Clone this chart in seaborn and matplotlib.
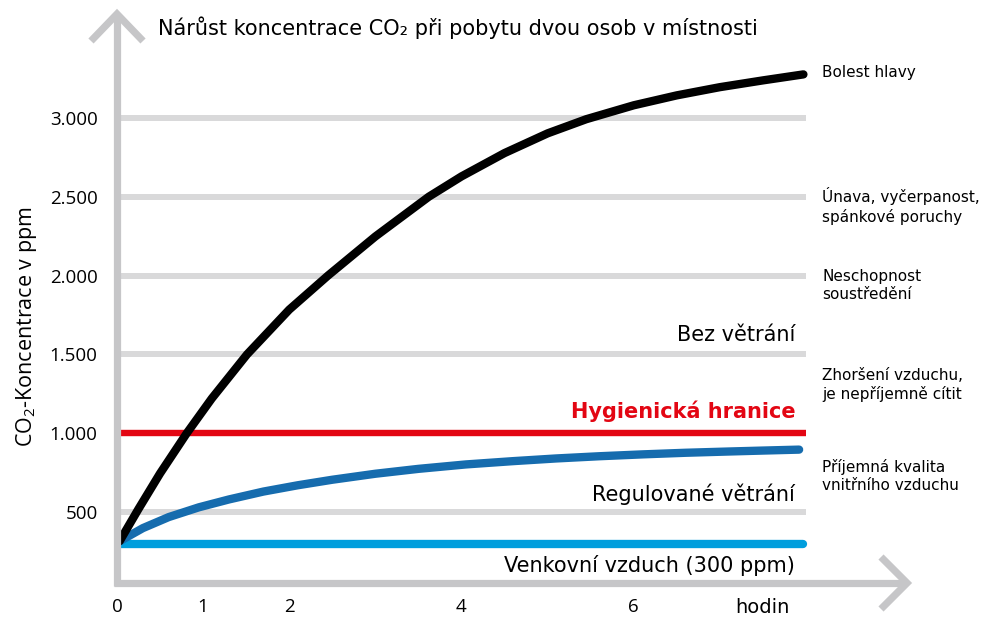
import numpy as np
import pandas as pd
import matplotlib
matplotlib.use("Agg")
import matplotlib.pyplot as plt
from matplotlib.lines import Line2D
import seaborn as sns

# ---------------- data ----------------
hours_no_vent = [0.03, 0.25, 0.5, 0.81, 1.1, 1.51, 2.0, 2.45, 3.0, 3.62, 4.0, 4.5, 5.0,
                 5.45, 6.0, 6.5, 7.0, 7.5, 7.97]
no_ventilation = [315, 520, 745, 1000, 1220, 1500, 1784, 2000, 2248, 2500, 2629, 2777, 2902,
                  2992, 3080, 3143, 3195, 3238, 3276]
hours_ctrl = [0.03, 0.3, 0.6, 0.95, 1.3, 1.7, 2.1, 2.5, 3.0, 3.5, 4.05, 4.6, 5.1, 5.6,
              6.11, 6.6, 7.1, 7.5, 7.92]
controlled_ventilation = [315, 398, 468, 530, 580, 630, 670, 705, 743, 774, 802, 823, 840, 854,
                          866, 876, 884, 890, 896]
hours_outdoor = [0.03, 7.97]
outdoor_ppm = [300, 300]
hygiene_limit = 1000
grid_levels = [500, 1500, 2000, 2500, 3000]
y_ticks = [500, 1000, 1500, 2000, 2500, 3000]
y_tick_labels = ["500", "1.000", "1.500", "2.000", "2.500", "3.000"]
x_ticks = [0, 1, 2, 4, 6, 7.5]
x_tick_labels = ["0", "1", "2", "4", "6", "hodin"]
effects = ["Bolest hlavy", "Únava, vyčerpanost,\nspánkové poruchy", "Neschopnost\nsoustředění",
           "Zhoršení vzduchu,\nje nepříjemně cítit", "Příjemná kvalita\nvnitřního vzduchu"]
effect_levels = [3285, 2441, 1940, 1306, 729]
series_labels = ["Bez větrání", "Hygienická hranice", "Regulované větrání", "Venkovní vzduch (300 ppm)"]
series_label_levels = [1620, 1140, 614, 158]
title = "Nárůst koncentrace CO₂ při pobytu dvou osob v místnosti"
ylabel = "CO$_2$-Koncentrace v ppm"

df_nv = pd.DataFrame({"hodin": hours_no_vent, "ppm": no_ventilation})
df_cv = pd.DataFrame({"hodin": hours_ctrl, "ppm": controlled_ventilation})
df_out = pd.DataFrame({"hodin": hours_outdoor, "ppm": outdoor_ppm})

# ---------------- style ----------------
sns.set_style("white")
plt.rcParams["font.family"] = ["DejaVu Sans"]
plt.rcParams["text.color"] = "black"
plt.rcParams["axes.labelcolor"] = "black"
plt.rcParams["xtick.color"] = "black"
plt.rcParams["ytick.color"] = "black"
plt.rcParams["mathtext.default"] = "regular"

W, H = 987, 618
fig = plt.figure(figsize=(W / 100, H / 100), dpi=100)
fig.patch.set_facecolor("white")
ax = fig.add_axes([117 / W, 35 / H, (806 - 117) / W, (583 - 71) / H])
ax.set_xlim(0, 8)
ax.set_ylim(50, 3297.5)
for s in ax.spines.values():
    s.set_visible(False)

GRID = "#d9d9da"
AXIS = "#c6c6c8"
RED = "#e30613"
DBLUE = "#166cae"
LBLUE = "#009edd"

ax.hlines(grid_levels, 0.04, 8, colors=GRID, lw=4.3, zorder=1)
ax.hlines([hygiene_limit], 0.04, 8, colors=RED, lw=4.6, zorder=2)

common = dict(solid_capstyle="round", solid_joinstyle="round", clip_on=False, legend=False)
sns.lineplot(data=df_out, x="hodin", y="ppm", color=LBLUE, lw=6.0, ax=ax, zorder=3, **common)
sns.lineplot(data=df_cv, x="hodin", y="ppm", color=DBLUE, lw=6.0, ax=ax, zorder=4, **common)
sns.lineplot(data=df_nv, x="hodin", y="ppm", color="black", lw=6.0, ax=ax, zorder=5, **common)

# ticks
ax.set_yticks(y_ticks)
ax.set_yticklabels(y_tick_labels, fontsize=13.5, family="Open Sans")
ax.set_xticks(x_ticks)
ax.set_xticklabels(x_tick_labels, fontsize=14)
for lab in ax.get_xticklabels()[:-1]:
    lab.set_family("Open Sans")
    lab.set_fontsize(13.5)
ax.tick_params(axis="y", length=0, pad=14)
ax.tick_params(axis="x", length=0, pad=11)
ax.set_xlabel("")
ax.set_ylabel(ylabel, fontsize=15.5, family="Open Sans", labelpad=8)

# labels inside
lab_x = 7.875
for txt, lvl in zip(series_labels, series_label_levels):
    bold = txt.startswith("Hygien")
    ax.text(lab_x, lvl, txt, ha="right", va="center", fontsize=15,
            fontweight="bold" if bold else "normal", color=RED if bold else "black")

for txt, lvl in zip(effects, effect_levels):
    ax.text(8.19, lvl, txt, ha="left", va="center", fontsize=11, linespacing=1.25, clip_on=False)

fig.text(158 / W, 1 - 28 / H, title, ha="left", va="center", fontsize=15)

# axis arrows (figure pixel coords -> fraction)
def P(xs, ys):
    return [x / W for x in xs], [1 - y / H for y in ys]

def add(xs, ys, **kw):
    fx, fy = P(xs, ys)
    fig.add_artist(Line2D(fx, fy, color=AXIS, lw=5.2, transform=fig.transFigure, **kw))

add([117, 117], [586, 16], solid_capstyle="butt")
add([114, 905], [583, 583], solid_capstyle="butt")
add([91, 117, 143], [41, 14, 41], solid_joinstyle="miter", solid_capstyle="butt")
add([881, 907, 881], [557, 583, 609], solid_joinstyle="miter", solid_capstyle="butt")

fig.savefig("out.png", dpi=100, facecolor="white")
